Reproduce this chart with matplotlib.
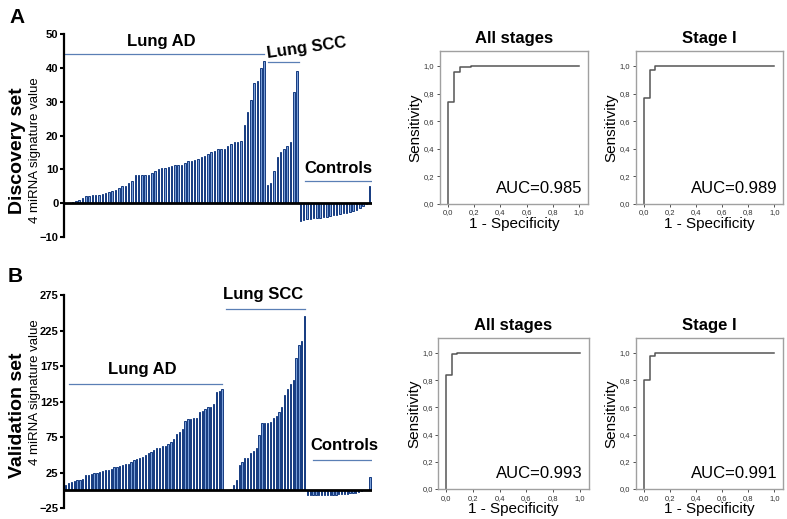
import matplotlib
matplotlib.use("Agg")
import matplotlib.pyplot as plt
from matplotlib import font_manager

narrow = "Liberation Sans Narrow"
names = {f.name for f in font_manager.fontManager.ttflist}
if narrow not in names:
    narrow = "Liberation Sans"

plt.rcParams.update({
    "font.family": ["Liberation Sans", "DejaVu Sans"],
    "axes.spines.top": False,
    "axes.spines.right": False,
})

# ---- Discovery set (A) ----
disc_ad = [0, 0, 0.3, 0.5, 1, 1.5, 2, 2.2, 2.5, 2.5, 2.5, 2.7, 3, 3.3, 3.5, 4,
           4.5, 5, 5.2, 6, 6.5, 8.2, 8.2, 8.2, 8.2, 8.2, 9, 9.5, 10, 10.5, 10.5,
           10.8, 11, 11.3, 11.3, 11.3, 12, 12.5, 12.5, 12.7, 13, 13.5, 14, 14.5,
           15, 15.5, 16, 16, 16, 17, 17.5, 18, 18, 18.3, 23, 27, 30.5, 35.5, 36,
           40, 42]
disc_scc = [5.5, 6, 9.5, 13.5, 15, 16, 17, 18, 33, 39]
disc_ctrl = [-5.3, -5.0, -4.8, -4.7, -4.5, -4.5, -4.3, -4.2, -4, -3.8, -3.6,
             -3.4, -3.2, -3, -2.8, -2.6, -2.4, -2, -1.5, -0.8, -0.3, 5]

# ---- Validation set (B) ----
val_ad = [7, 10, 12, 13, 14, 15, 16, 21, 22, 23, 24, 25, 26, 27, 28, 28,
          30, 33, 33, 34, 36, 37, 37, 40, 42, 44, 45, 47, 50, 52, 54, 57, 59,
          60, 62, 62, 65, 68, 72, 80, 82, 86, 98, 100, 101, 102, 102, 110,
          112, 115, 118, 118, 122, 138, 140, 143]
val_scc = [0, 1, 2, 8, 15, 35, 40, 45, 46, 52, 55, 60, 78, 95, 95, 95, 96, 102,
           105, 110, 118, 135, 143, 150, 155, 187, 205, 210, 245]
val_ctrl = [-7, -7, -7, -7, -7, -7, -6.5, -6.5, -6, -6, -6, -5.5, -5.5, -5,
            -5, -4.5, -4.5, -4, -3, -1, 0, 0, 18]

# ---- ROC curves (1 - specificity, sensitivity) ----
roc_a_all_x = [0, 0, 0.045, 0.045, 0.09, 0.09, 0.18, 0.18, 1.0]
roc_a_all_y = [0, 0.74, 0.74, 0.96, 0.96, 0.99, 0.99, 1.0, 1.0]
roc_a_s1_x = [0, 0, 0.045, 0.045, 0.09, 0.09, 1.0]
roc_a_s1_y = [0, 0.77, 0.77, 0.97, 0.97, 1.0, 1.0]
roc_b_all_x = [0, 0, 0.04, 0.04, 0.08, 0.08, 1.0]
roc_b_all_y = [0, 0.84, 0.84, 0.99, 0.99, 1.0, 1.0]
roc_b_s1_x = [0, 0, 0.045, 0.045, 0.09, 0.09, 1.0]
roc_b_s1_y = [0, 0.80, 0.80, 0.98, 0.98, 1.0, 1.0]

fig = plt.figure(figsize=(7.87, 5.19), dpi=100)

BAR_FACE = "#7a9fd8"
BAR_EDGE = "#153b80"
GROUP_LINE = "#5a7fb5"


def bar_panel(rect, ad, scc, ctrl, ylim, yticks):
    ax = fig.add_axes(rect)
    vals = ad + scc + ctrl
    xs = list(range(len(vals)))
    ax.bar(xs, vals, width=0.45, color=BAR_FACE, edgecolor=BAR_EDGE,
           linewidth=0.7)
    ax.axhline(0, color="black", lw=2)
    ax.set_xlim(-0.6, len(vals) - 0.4)
    ax.set_ylim(*ylim)
    ax.set_yticks(yticks)
    ax.spines["bottom"].set_visible(False)
    ax.spines["left"].set_linewidth(1.6)
    ax.set_xticks([])
    ax.tick_params(axis="y", direction="out", length=3, width=1.5, pad=1)
    for lab in ax.get_yticklabels():
        lab.set_fontfamily(narrow)
        lab.set_fontweight("bold")
        lab.set_fontsize(8)
    return ax, len(ad), len(scc), len(ctrl)


def roc_panel(rect, fx, fy, title, auc):
    ax = fig.add_axes(rect)
    ax.plot(fx, fy, color="#555555", lw=1.1)
    ax.set_xlim(-0.06, 1.067)
    ax.set_ylim(0, 1.11)
    for s in ("top", "right", "left", "bottom"):
        ax.spines[s].set_visible(True)
        ax.spines[s].set_color("#a0a0a0")
        ax.spines[s].set_linewidth(1.0)
    ticks = [0, 0.2, 0.4, 0.6, 0.8, 1.0]
    labels = ["0,0", "0,2", "0,4", "0,6", "0,8", "1,0"]
    ax.set_xticks(ticks, labels)
    ax.set_yticks(ticks, labels)
    ax.tick_params(length=2, width=0.6, labelsize=5.5, pad=2,
                   colors="#333333")
    ax.set_xlabel("1 - Specificity", fontsize=11, labelpad=0)
    ax.set_ylabel("Sensitivity", fontsize=11, labelpad=1)
    ax.set_title(title, fontsize=12, fontweight="bold", pad=6)
    ax.text(0.96, 0.05, auc, transform=ax.transAxes, ha="right",
            va="bottom", fontsize=12)
    return ax


# Panel A bars
ax, na, ns, nc = bar_panel([0.0813, 0.5434, 0.391, 0.391], disc_ad, disc_scc,
                           disc_ctrl, (-10, 50), [-10, 0, 10, 20, 30, 40, 50])
ax.plot([-0.5, na - 1.0], [44, 44], color=GROUP_LINE, lw=0.9)
ax.text((na - 1) / 2 - 1, 45.5, "Lung AD", ha="center", va="bottom",
        fontsize=12, fontweight="bold")
ax.plot([na + 0.3, na + ns - 0.5], [41.7, 41.7], color=GROUP_LINE, lw=0.9)
ax.text(na + ns / 2 + 7, 42, "Lung SCC", ha="center", va="bottom",
        fontsize=12, fontweight="bold", rotation=8)
c0 = na + ns
ax.plot([c0 + 1.5, c0 + nc - 0.4], [6.5, 6.5], color=GROUP_LINE, lw=0.9)
ax.text(c0 + nc / 2 + 0.5, 8.0, "Controls", ha="center", va="bottom",
        fontsize=12, fontweight="bold")

# Panel B bars
ax, na, ns, nc = bar_panel([0.0813, 0.0212, 0.391, 0.410], val_ad, val_scc,
                           val_ctrl, (-25, 275),
                           [-25, 25, 75, 125, 175, 225, 275])
ax.plot([1, na - 1], [150, 150], color=GROUP_LINE, lw=0.9)
ax.text(na / 2 - 1, 160, "Lung AD", ha="center", va="bottom",
        fontsize=12, fontweight="bold")
ax.plot([na + 0.5, na + ns - 1], [256, 256], color=GROUP_LINE, lw=0.9)
ax.text(na + ns / 2 - 1, 265, "Lung SCC", ha="center", va="bottom",
        fontsize=12, fontweight="bold")
c0 = na + ns
ax.plot([c0 + 2, c0 + nc - 0.4], [42, 42], color=GROUP_LINE, lw=0.9)
ax.text(c0 + nc / 2 + 1.5, 53, "Controls", ha="center", va="bottom",
        fontsize=12, fontweight="bold")

# ROC panels
roc_panel([0.559, 0.607, 0.188, 0.295], roc_a_all_x, roc_a_all_y,
          "All stages", "AUC=0.985")
roc_panel([0.808, 0.607, 0.187, 0.295], roc_a_s1_x, roc_a_s1_y,
          "Stage I", "AUC=0.989")
roc_panel([0.557, 0.0578, 0.191, 0.291], roc_b_all_x, roc_b_all_y,
          "All stages", "AUC=0.993")
roc_panel([0.808, 0.0578, 0.187, 0.291], roc_b_s1_x, roc_b_s1_y,
          "Stage I", "AUC=0.991")

# Row labels
fig.text(0.012, 0.985, "A", fontsize=15, fontweight="bold", va="top")
fig.text(0.010, 0.485, "B", fontsize=15, fontweight="bold", va="top")
fig.text(0.022, 0.71, "Discovery set", rotation=90, fontsize=14,
         fontweight="bold", ha="center", va="center")
fig.text(0.045, 0.71, "4 miRNA signature value", rotation=90, fontsize=9.5,
         ha="center", va="center")
fig.text(0.022, 0.20, "Validation set", rotation=90, fontsize=14,
         fontweight="bold", ha="center", va="center")
fig.text(0.045, 0.245, "4 miRNA signature value", rotation=90, fontsize=9.5,
         ha="center", va="center")

fig.savefig("out.png", dpi=100)
